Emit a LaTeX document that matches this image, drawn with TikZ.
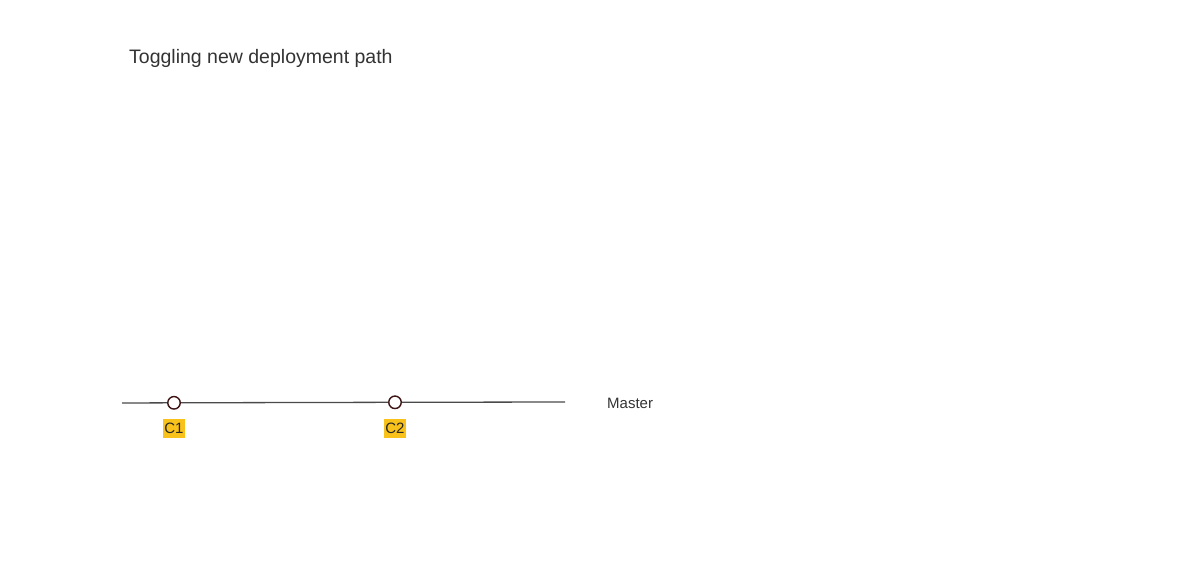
\documentclass[tikz,border=0pt]{standalone}
\usepackage{fontspec}
\setmainfont{Liberation Sans}
\definecolor{linegray}{HTML}{4A4A4A}
\definecolor{txtgray}{HTML}{333333}
\definecolor{commitring}{HTML}{3E1414}
\definecolor{tagyellow}{HTML}{F9C21A}
\begin{document}
\begin{tikzpicture}[x=1pt,y=-1pt,
  commit/.style={circle,draw=commitring,fill=white,line width=1.4pt,minimum size=12.5pt,inner sep=0pt},
  tag/.style={fill=tagyellow,text=black!85,font=\fontsize{15}{15}\selectfont,inner xsep=1pt,inner ysep=0pt,minimum height=18.5pt},
  branchline/.style={draw=linegray,line width=1.3pt}]
\useasboundingbox (0,0) rectangle (1200,584);
\node[anchor=west,text=txtgray,font=\fontsize{19.5}{19.5}\selectfont,inner sep=0pt] (title) at (129,58) {Toggling new deployment path};
\coordinate (start) at (122,403);
\coordinate (end) at (565,402);
\node[commit] (c1) at (174,402.8) {};
\node[commit] (c2) at (395,402.3) {};
\draw[branchline] (start) -- (c1) -- (c2) -- (end);
\node[tag] (l1) at (174,428.5) {C1};
\node[tag] (l2) at (395,428.5) {C2};
\node[anchor=west,text=txtgray,font=\fontsize{15}{15}\selectfont,inner sep=0pt] (master) at (607,403) {Master};
\end{tikzpicture}
\end{document}
